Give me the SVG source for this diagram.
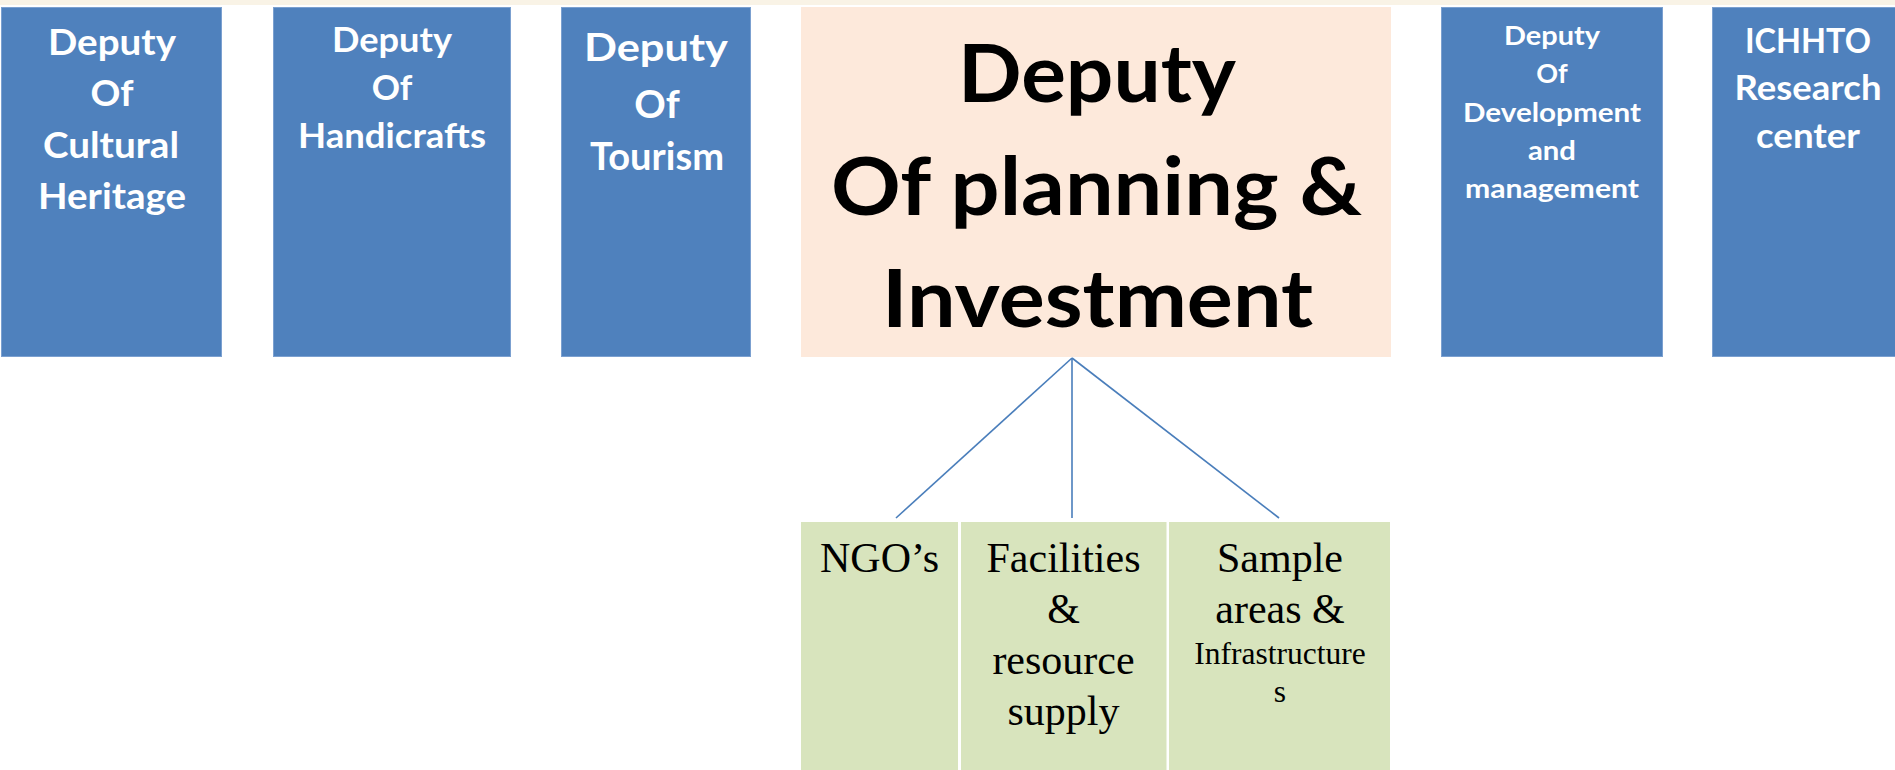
<svg xmlns="http://www.w3.org/2000/svg" width="1895" height="770" viewBox="0 0 1895 770">
  <style>
    .blue { fill: #4f81bd; stroke: #7ba0d0; stroke-width: 1; }
    .peach { fill: #fde9db; }
    .green { fill: #d8e4bd; }
    .wt { font-family: Lato, "Liberation Sans", sans-serif; font-weight: bold; fill: #ffffff; text-anchor: middle; }
    .bk { font-family: Lato, "Liberation Sans", sans-serif; font-weight: bold; fill: #000000; text-anchor: middle; font-size: 81px; }
    .sf { font-family: "Liberation Serif", serif; fill: #000000; text-anchor: middle; font-size: 42px; }
    .sf.small { font-size: 31.5px; }
    .conn { stroke: #4a7ebb; stroke-width: 1.6; fill: none; }
  </style>
  <rect x="0" y="0" width="1895" height="770" fill="#ffffff"/>
  <rect x="0" y="0" width="1895" height="5" fill="#f9f3e6"/>

  <g id="node-cultural-heritage">
    <rect class="blue" x="1.5" y="7.5" width="220" height="349"/>
    <text class="wt" font-size="37" x="112" y="55" textLength="128" lengthAdjust="spacingAndGlyphs">Deputy</text>
    <text class="wt" font-size="37" x="112" y="106">Of</text>
    <text class="wt" font-size="37" x="111" y="158" textLength="136" lengthAdjust="spacingAndGlyphs">Cultural</text>
    <text class="wt" font-size="37" x="112" y="209" textLength="148" lengthAdjust="spacingAndGlyphs">Heritage</text>
  </g>

  <g id="node-handicrafts">
    <rect class="blue" x="273.5" y="7.5" width="237" height="349"/>
    <text class="wt" font-size="35" x="392" y="52" textLength="120" lengthAdjust="spacingAndGlyphs">Deputy</text>
    <text class="wt" font-size="35" x="392" y="100">Of</text>
    <text class="wt" font-size="35" x="392" y="148" textLength="188" lengthAdjust="spacingAndGlyphs">Handicrafts</text>
  </g>

  <g id="node-tourism">
    <rect class="blue" x="561.5" y="7.5" width="189" height="349"/>
    <text class="wt" font-size="39" x="656" y="61" textLength="144" lengthAdjust="spacingAndGlyphs">Deputy</text>
    <text class="wt" font-size="39" x="657" y="118">Of</text>
    <text class="wt" font-size="39" x="657" y="170" textLength="134" lengthAdjust="spacingAndGlyphs">Tourism</text>
  </g>

  <g id="node-planning">
    <rect class="peach" x="801" y="7" width="590" height="350"/>
    <text class="bk" x="1097" y="102" textLength="278" lengthAdjust="spacingAndGlyphs">Deputy</text>
    <text class="bk" x="1096.5" y="215" textLength="531" lengthAdjust="spacingAndGlyphs">Of planning &amp;</text>
    <text class="bk" x="1097.5" y="327" textLength="431" lengthAdjust="spacingAndGlyphs">Investment</text>
  </g>

  <g id="node-development">
    <rect class="blue" x="1441.5" y="7.5" width="221" height="349"/>
    <text class="wt" font-size="27" x="1552" y="45" textLength="96" lengthAdjust="spacingAndGlyphs">Deputy</text>
    <text class="wt" font-size="27" x="1552" y="83">Of</text>
    <text class="wt" font-size="27" x="1552" y="122" textLength="178" lengthAdjust="spacingAndGlyphs">Development</text>
    <text class="wt" font-size="27" x="1552" y="160" textLength="48" lengthAdjust="spacingAndGlyphs">and</text>
    <text class="wt" font-size="27" x="1552" y="198" textLength="174" lengthAdjust="spacingAndGlyphs">management</text>
  </g>

  <g id="node-research">
    <rect class="blue" x="1712.5" y="7.5" width="200" height="349"/>
    <text class="wt" font-size="35" x="1808" y="53" textLength="126" lengthAdjust="spacingAndGlyphs">ICHHTO</text>
    <text class="wt" font-size="35" x="1808" y="100" textLength="147" lengthAdjust="spacingAndGlyphs">Research</text>
    <text class="wt" font-size="35" x="1808" y="148" textLength="104" lengthAdjust="spacingAndGlyphs">center</text>
  </g>

  <g id="connectors">
    <line class="conn" x1="1072" y1="358" x2="896" y2="518"/>
    <line class="conn" x1="1072" y1="358" x2="1072" y2="518"/>
    <line class="conn" x1="1072" y1="358" x2="1279" y2="518"/>
  </g>

  <g id="node-ngos">
    <rect class="green" x="801" y="522" width="157" height="248"/>
    <text class="sf" x="879.5" y="572">NGO’s</text>
  </g>

  <g id="node-facilities">
    <rect class="green" x="961" y="522" width="205.5" height="248"/>
    <text class="sf" x="1063.5" y="572">Facilities</text>
    <text class="sf" x="1063.5" y="623">&amp;</text>
    <text class="sf" x="1063.5" y="674">resource</text>
    <text class="sf" x="1063.5" y="725">supply</text>
  </g>

  <g id="node-sample-areas">
    <rect class="green" x="1169" y="522" width="221" height="248"/>
    <text class="sf" x="1280" y="572">Sample</text>
    <text class="sf" x="1280" y="623">areas &amp;</text>
    <text class="sf small" x="1280" y="664">Infrastructure</text>
    <text class="sf small" x="1280" y="702">s</text>
  </g>
</svg>
